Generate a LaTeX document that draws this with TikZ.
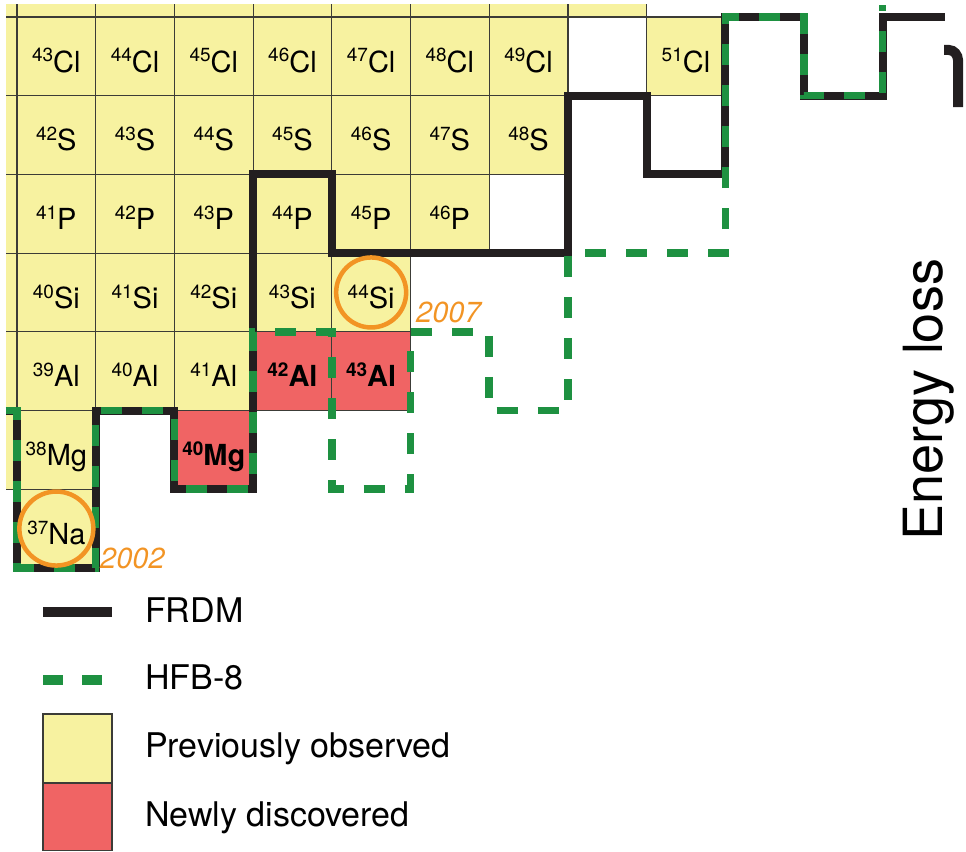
\documentclass[tikz,border=0pt]{standalone}
\usepackage{fontspec}
\setmainfont{TeX Gyre Heros}
\definecolor{yel}{RGB}{247,242,160}
\definecolor{newred}{RGB}{240,100,100}
\definecolor{hfbgreen}{RGB}{30,145,65}
\definecolor{frdm}{RGB}{35,31,32}
\definecolor{orng}{RGB}{242,148,36}
\definecolor{gridc}{RGB}{60,60,55}
\newcommand{\lab}[2]{\raisebox{10pt}{\fontsize{19}{19}\selectfont #1}#2}
\begin{document}
\begin{tikzpicture}[x=1pt,y=-1pt,
  cellbox/.style={draw=gridc, line width=1.2pt, minimum width=78.7pt, minimum height=78.7pt,
    inner sep=0pt, outer sep=0pt, text height=31.3pt, text depth=0pt,
    font=\fontsize{29}{29}\selectfont, anchor=north west},
  prev/.style={cellbox, fill=yel},
  newc/.style={cellbox, fill=newred, font=\fontsize{29}{29}\selectfont\bfseries},
  frdmline/.style={draw=frdm, line width=8pt, line join=miter, line cap=butt},
  hfbline/.style={draw=hfbgreen, line width=7.5pt, dash pattern=on 21pt off 20pt, line cap=butt},
  ring/.style={draw=orng, line width=4.5pt, circle, inner sep=0pt},
  yearlab/.style={text=orng, font=\fontsize{29}{29}\selectfont\itshape, inner sep=0pt, anchor=base west},
  legtext/.style={font=\fontsize{34}{34}\selectfont, inner sep=0pt, anchor=base west}
]
\useasboundingbox (0,0) rectangle (966,851);

% partial cells at the edges
\begin{scope}
  \clip (6,5) rectangle (966,851);
  \foreach \c in {0,...,7} \node[prev] (top\c) at ({17+78.7*\c},{17-78.7}) {};
  \foreach \r in {-1,...,5} \node[prev] (left\r) at ({17-78.7},{17+78.7*\r}) {};
\end{scope}

% Cl row
\foreach \c in {0,...,6} {\pgfmathtruncatemacro{\m}{43+\c}
  \node[prev] (Cl\m) at ({17+78.7*\c},17) {\lab{\m}{Cl}};}
\node[prev] (Cl51) at ({17+78.7*8},17) {\lab{51}{Cl}};
% S row
\foreach \c in {0,...,6} {\pgfmathtruncatemacro{\m}{42+\c}
  \node[prev] (S\m) at ({17+78.7*\c},{17+78.7}) {\lab{\m}{S}};}
% P row
\foreach \c in {0,...,5} {\pgfmathtruncatemacro{\m}{41+\c}
  \node[prev] (P\m) at ({17+78.7*\c},{17+78.7*2}) {\lab{\m}{P}};}
% Si row
\foreach \c in {0,...,4} {\pgfmathtruncatemacro{\m}{40+\c}
  \node[prev] (Si\m) at ({17+78.7*\c},{17+78.7*3}) {\lab{\m}{Si}};}
% Al row
\foreach \c in {0,...,2} {\pgfmathtruncatemacro{\m}{39+\c}
  \node[prev] (Al\m) at ({17+78.7*\c},{17+78.7*4}) {\lab{\m}{Al}};}
\node[newc] (Al42) at ({17+78.7*3},{17+78.7*4}) {\lab{42}{Al}};
\node[newc] (Al43) at ({17+78.7*4},{17+78.7*4}) {\lab{43}{Al}};
% Mg row
\node[prev] (Mg38) at (17,{17+78.7*5}) {\lab{38}{Mg}};
\node[newc] (Mg40) at ({17+78.7*2},{17+78.7*5}) {\lab{40}{Mg}};
% Na row
\node[prev] (Na37) at (17,{17+78.7*6}) {\lab{37}{Na}};

% drip lines
\begin{scope}[shift={(17,17)}, x=78.7pt, y=-78.7pt]
  \draw[frdmline] (-0.14,5) -- (0,5) -- (0,7) -- (1,7) -- (1,5) -- (2,5) -- (2,6) -- (3,6)
    -- (3,2) -- (4,2) -- (4,3) -- (7,3) -- (7,1) -- (8,1) -- (8,2) -- (9,2) -- (9,0)
    -- (10,0) -- (10,1) -- (11,1) -- (11,0) -- (11.79,0);
  \draw[hfbline] (-0.14,5) -- (0,5) -- (0,7) -- (1,7) -- (1,5) -- (2,5) -- (2,6) -- (3,6)
    -- (3,4) -- (4,4) -- (4,6) -- (5,6) -- (5,4) -- (6,4) -- (6,5) -- (7,5) -- (7,3)
    -- (9,3) -- (9,0) -- (10,0) -- (10,1) -- (11,1) -- (11,-0.152);
\end{scope}

% rings and years
\node[ring, minimum size=70pt] (ringSi) at (Si44.center) {};
\node[ring, minimum size=74pt] (ringNa) at (Na37.center) {};
\node[yearlab] (y2007) at (416,322) {2007};
\node[yearlab] (y2002) at (100,568) {2002};

% energy loss label and cut glyph
\node[rotate=90, anchor=base west, font=\fontsize{54}{54}\selectfont, inner sep=0pt] (eloss) at (942,541) {Energy loss};
\draw[frdm, line width=10pt] (944,50) -- (949,50) .. controls (954,50) and (958,55) .. (958,60) -- (958,107);

% legend
\coordinate (lfa) at (43,612); \coordinate (lfb) at (112,612);
\draw[draw=frdm, line width=10pt] (lfa) -- (lfb);
\coordinate (lha) at (43,680); \coordinate (lhb) at (103,680);
\draw[draw=hfbgreen, line width=10pt, dash pattern=on 20pt off 19pt] (lha) -- (lhb);
\draw[draw=gridc, line width=1.2pt, fill=yel] (43,714) rectangle (112,783);
\draw[draw=gridc, line width=1.2pt, fill=newred] (43,783) rectangle (112,850.4);
\node[legtext] (tFRDM) at (145,622) {FRDM};
\node[legtext] (tHFB) at (145,689) {HFB-8};
\node[legtext] (tPrev) at (145,757) {Previously observed};
\node[legtext] (tNew) at (145,826) {Newly discovered};
\end{tikzpicture}
\end{document}
